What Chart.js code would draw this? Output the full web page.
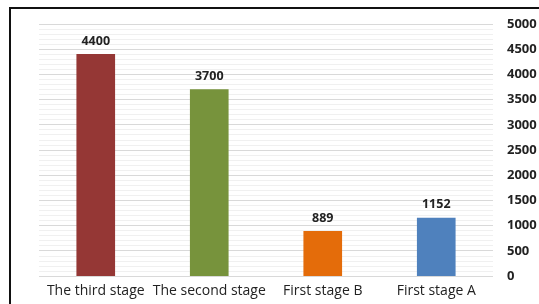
<!DOCTYPE html>
<html>
<head>
<meta charset="utf-8">
<script src="https://cdn.jsdelivr.net/npm/chart.js@4/dist/chart.umd.min.js"></script>
<style>
  body { margin: 0; background: #fff; }
  .wrap { position: relative; width: 539px; height: 304px; overflow: hidden; }
  .frame { position: absolute; left: 9px; top: 7px; width: 600px; height: 400px;
    border-left: 2px solid #111; border-top: 2px solid #111; }
  canvas { position: absolute; left: 0; top: 2px; }
</style>
</head>
<body>
<div class="wrap">
  <canvas id="chart" width="539" height="304"></canvas>
  <div class="frame"></div>
</div>
<script>
const stages = ["The third stage", "The second stage", "First stage B", "First stage A"];
const counts = [4400, 3700, 889, 1152];
const barColors = ["#953735", "#77933C", "#E46C0A", "#4F81BD"];

// values written above each bar
const valueLabels = {
  id: "valueLabels",
  afterDatasetsDraw(chart) {
    const ctx = chart.ctx;
    const meta = chart.getDatasetMeta(0);
    ctx.save();
    ctx.font = "bold 12.5px 'Open Sans'";
    ctx.fillStyle = "#222";
    ctx.textAlign = "center";
    ctx.textBaseline = "bottom";
    meta.data.forEach((bar, i) => {
      ctx.fillText(counts[i], bar.x, bar.y - 7);
    });
    ctx.restore();
  },
};

new Chart(document.getElementById("chart").getContext("2d"), {
  type: "bar",
  data: {
    labels: stages,
    datasets: [
      {
        data: counts,
        backgroundColor: barColors,
        borderWidth: 0,
        barThickness: 38,
      },
    ],
  },
  options: {
    responsive: false,
    animation: false,
    layout: { padding: { left: 39, right: 0, top: 22, bottom: 1 } },
    plugins: { legend: { display: false }, tooltip: { enabled: false } },
    scales: {
      x: {
        grid: { display: false, drawTicks: false },
        border: { display: false },
        ticks: {
          color: "#222",
          font: { family: "'Open Sans'", size: 14 },
          padding: 6,
          maxRotation: 0,
          autoSkip: false,
        },
      },
      y: {
        position: "right",
        min: 0,
        max: 5000,
        border: { display: false },
        afterFit: (scale) => { scale.width = 46; },
        grid: {
          drawTicks: false,
          color: (c) => (c.tick && c.tick.value % 500 === 0 ? "#d9d9d9" : "#f0f0f0"),
        },
        ticks: {
          stepSize: 100,
          autoSkip: false,
          padding: 14,
          color: "#222",
          font: { family: "'Open Sans'", size: 13, weight: "bold" },
          callback: (v) => (v % 500 === 0 ? v : ""),
        },
      },
    },
  },
  plugins: [valueLabels],
});
</script>
</body>
</html>
